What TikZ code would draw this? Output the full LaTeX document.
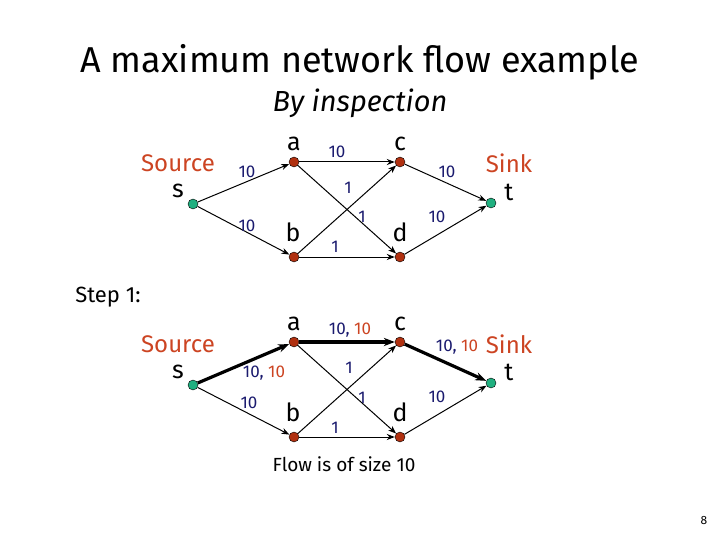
\documentclass[tikz,border=0pt]{standalone}
\usepackage{fontspec}
\setmainfont{Fira Sans}
\usetikzlibrary{arrows.meta}
\begin{document}
\begin{tikzpicture}[x=1pt,y=-1pt,
 v/.style={circle,draw=black,fill=#1,inner sep=0pt,minimum size=10pt},
 e/.style={draw,-{Stealth[length=8pt]},line width=1pt},
 eb/.style={draw,-{Stealth[length=11pt]},line width=3.2pt},
 lab/.style={text=navy,font=\fontsize{17}{19}\selectfont},
 nm/.style={font=\fontsize{25}{27}\selectfont},
 st/.style={text=orng,font=\fontsize{24}{26}\selectfont,align=center}]
\definecolor{navy}{HTML}{1A1A6E}
\definecolor{orng}{HTML}{CC4422}
\definecolor{vred}{HTML}{B03010}
\definecolor{vgrn}{HTML}{20B080}
\useasboundingbox (0,0) rectangle (720,540);
\node[font=\fontsize{36}{40}\selectfont] (title) at (360,62) {A maximum network flow example};
\node[font=\itshape\fontsize{29}{33}\selectfont] (sub) at (360,103) {By inspection};
% top graph
\node[v=vgrn] (s) at (193,204) {};
\node[v=vred] (a) at (294,162) {};
\node[v=vred] (c) at (400,162) {};
\node[v=vred] (b) at (294,257) {};
\node[v=vred] (d) at (400,257) {};
\node[v=vgrn] (t) at (491,203) {};
\path[e] (s)--(a); \path[e] (s)--(b); \path[e] (a)--(c); \path[e] (a)--(d);
\path[e] (b)--(c); \path[e] (b)--(d); \path[e] (c)--(t); \path[e] (d)--(t);
\node[nm] (na) at (294,144) {a}; \node[nm] (nc) at (400,144) {c};
\node[nm] (nb) at (293,232) {b}; \node[nm] (nd) at (400,232) {d};
\node[nm] (ns) at (178,191) {s}; \node[nm] (nt) at (509,192) {t};
\node[st] (src) at (178,163) {Source}; \node[st] (snk) at (509,163) {Sink};
\node[lab] (l1) at (247,172) {10}; \node[lab] (l2) at (247,226) {10};
\node[lab] (l3) at (337,152) {10}; \node[lab] (l4) at (348,188) {1};
\node[lab] (l5) at (362,217) {1}; \node[lab] (l6) at (335,247) {1};
\node[lab] (l7) at (447,172) {10}; \node[lab] (l8) at (437,217) {10};
% bottom graph
\node[font=\fontsize{22}{26}\selectfont] (step) at (108,297) {Step 1:};
\node[v=vgrn] (s2) at (193,385) {};
\node[v=vred] (a2) at (294,342) {};
\node[v=vred] (c2) at (400,342) {};
\node[v=vred] (b2) at (294,437) {};
\node[v=vred] (d2) at (400,437) {};
\node[v=vgrn] (t2) at (491,383) {};
\path[eb] (s2)--(a2); \path[e] (s2)--(b2); \path[eb] (a2)--(c2); \path[e] (a2)--(d2);
\path[e] (b2)--(c2); \path[e] (b2)--(d2); \path[eb] (c2)--(t2); \path[e] (d2)--(t2);
\node[nm] (na2) at (294,324) {a}; \node[nm] (nc2) at (400,324) {c};
\node[nm] (nb2) at (293,412) {b}; \node[nm] (nd2) at (400,412) {d};
\node[nm] (ns2) at (178,372) {s}; \node[nm] (nt2) at (509,372) {t};
\node[st] (src2) at (178,344) {Source}; \node[st] (snk2) at (509,344) {Sink};
\node[lab] (m1) at (264,373) {10, \textcolor{orng}{10}}; \node[lab] (m2) at (249,403) {10};
\node[lab] (m3) at (350,330) {10, \textcolor{orng}{10}}; \node[lab] (m4) at (349,368) {1};
\node[lab] (m5) at (362,398) {1}; \node[lab] (m6) at (335,428) {1};
\node[lab] (m7) at (457,347) {10, \textcolor{orng}{10}}; \node[lab] (m8) at (437,397) {10};
\node[font=\fontsize{19}{22}\selectfont] (flow) at (344,464) {Flow is of size 10};
\node[font=\fontsize{12}{14}\selectfont] (pg) at (704,520) {8};
\end{tikzpicture}
\end{document}
